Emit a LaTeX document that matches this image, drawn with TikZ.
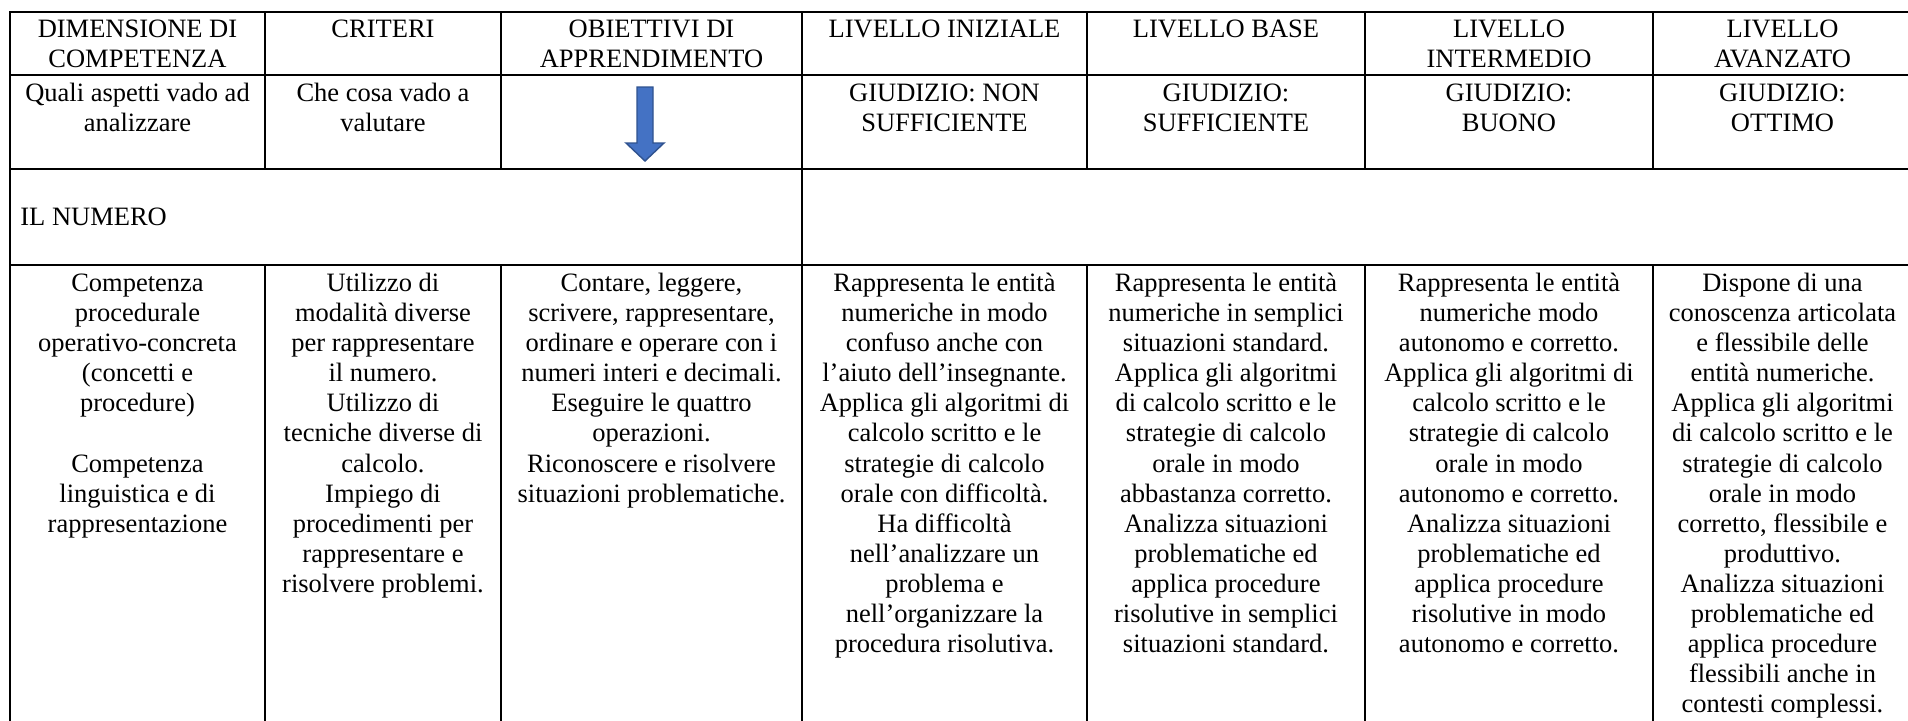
\documentclass[tikz,border=0pt]{standalone}
\usepackage{fontspec}
\setmainfont{Liberation Serif}
\definecolor{arrowblue}{HTML}{4472C4}
\definecolor{arrowedge}{HTML}{2F528F}
\begin{document}
\begin{tikzpicture}[x=0.5pt,y=-0.5pt,
  grid/.style={line width=1.2pt, line cap=rect},
  cell/.style={anchor=north, inner sep=0pt, align=center, font={\fontsize{13.25pt}{15.05pt}\selectfont}},
  lcell/.style={cell, anchor=north west, align=left},
  blockarrow/.style={fill=arrowblue, draw=arrowedge, line width=0.7pt, line join=miter}]
\useasboundingbox (0,0) rectangle (1908,720);
\fill[white] (0,0) rectangle (1908,720);
% grid
\begin{scope}
\clip (0,0) rectangle (1908,720);
\draw[grid] (10,12) -- (1912,12);
\draw[grid] (10,75) -- (1912,75);
\draw[grid] (10,169) -- (1912,169);
\draw[grid] (10,265) -- (1912,265);
\draw[grid] (10,12) -- (10,740);
\draw[grid] (802,12) -- (802,740);
\draw[grid] (1912,12) -- (1912,740);
\foreach \x in {265,501,1087,1365,1653} {
  \draw[grid] (\x,12) -- (\x,169);
  \draw[grid] (\x,265) -- (\x,740);
}
\end{scope}
% header row (baseline 37)
\node[cell] (h1) at (137.5,16) {\strut DIMENSIONE DI\\COMPETENZA};
\node[cell] (h2) at (383,16) {\strut CRITERI};
\node[cell] (h3) at (651.5,16) {\strut OBIETTIVI DI\\APPRENDIMENTO};
\node[cell] (h4) at (944.5,16) {\strut LIVELLO INIZIALE};
\node[cell] (h5) at (1226,16) {\strut LIVELLO BASE};
\node[cell] (h6) at (1509,16) {\strut LIVELLO\\INTERMEDIO};
\node[cell] (h7) at (1782.5,16) {\strut LIVELLO\\AVANZATO};
% second row (baseline 101)
\node[cell] (g1) at (137.5,80) {\strut Quali aspetti vado ad\\analizzare};
\node[cell] (g2) at (383,80) {\strut Che cosa vado a\\valutare};
\node[cell] (g4) at (944.5,80) {\strut GIUDIZIO: NON\\SUFFICIENTE};
\node[cell] (g5) at (1226,80) {\strut GIUDIZIO:\\SUFFICIENTE};
\node[cell] (g6) at (1509,80) {\strut GIUDIZIO:\\BUONO};
\node[cell] (g7) at (1782.5,80) {\strut GIUDIZIO:\\OTTIMO};
% arrow
\draw[blockarrow] (637,87) -- (653,87) -- (653,143) -- (664,143) -- (645,161) -- (626,143) -- (637,143) -- cycle;
% IL NUMERO row (baseline 225)
\node[lcell] (num) at (20,204) {\strut IL NUMERO};
% content row (baseline 291)
\node[cell] (b1) at (137.5,270) {\strut Competenza\\procedurale\\operativo-concreta\\(concetti e\\procedure)\\\strut\\Competenza\\linguistica e di\\rappresentazione};
\node[cell] (b2) at (383,270) {\strut Utilizzo di\\modalità diverse\\per rappresentare\\il numero.\\Utilizzo di\\tecniche diverse di\\calcolo.\\Impiego di\\procedimenti per\\rappresentare e\\risolvere problemi.};
\node[cell] (b3) at (651.5,270) {\strut Contare, leggere,\\scrivere, rappresentare,\\ordinare e operare con i\\numeri interi e decimali.\\Eseguire le quattro\\operazioni.\\Riconoscere e risolvere\\situazioni problematiche.};
\node[cell] (b4) at (944.5,270) {\strut Rappresenta le entità\\numeriche in modo\\confuso anche con\\l’aiuto dell’insegnante.\\Applica gli algoritmi di\\calcolo scritto e le\\strategie di calcolo\\orale con difficoltà.\\Ha difficoltà\\nell’analizzare un\\problema e\\nell’organizzare la\\procedura risolutiva.};
\node[cell] (b5) at (1226,270) {\strut Rappresenta le entità\\numeriche in semplici\\situazioni standard.\\Applica gli algoritmi\\di calcolo scritto e le\\strategie di calcolo\\orale in modo\\abbastanza corretto.\\Analizza situazioni\\problematiche ed\\applica procedure\\risolutive in semplici\\situazioni standard.};
\node[cell] (b6) at (1509,270) {\strut Rappresenta le entità\\numeriche modo\\autonomo e corretto.\\Applica gli algoritmi di\\calcolo scritto e le\\strategie di calcolo\\orale in modo\\autonomo e corretto.\\Analizza situazioni\\problematiche ed\\applica procedure\\risolutive in modo\\autonomo e corretto.};
\node[cell] (b7) at (1782.5,270) {\strut Dispone di una\\conoscenza articolata\\e flessibile delle\\entità numeriche.\\Applica gli algoritmi\\di calcolo scritto e le\\strategie di calcolo\\orale in modo\\corretto, flessibile e\\produttivo.\\Analizza situazioni\\problematiche ed\\applica procedure\\flessibili anche in\\contesti complessi.};
\end{tikzpicture}
\end{document}
